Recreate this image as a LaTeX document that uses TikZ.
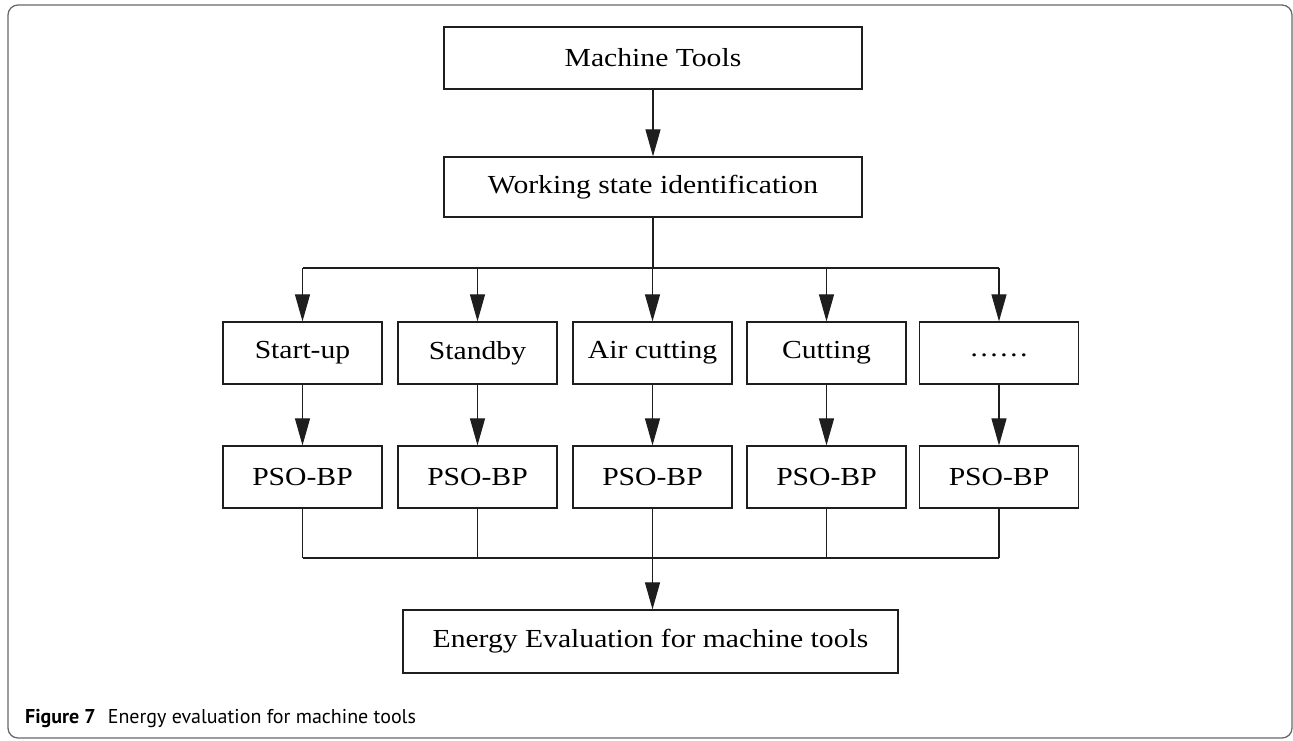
\documentclass[tikz,border=0pt]{standalone}
\usepackage{fontspec}
\setmainfont{Liberation Serif}
\newfontfamily\boxfont[FakeStretch=1.14]{Liberation Serif}
\newfontfamily\capfont{PT Sans}
\usetikzlibrary{arrows.meta}
\definecolor{framegray}{RGB}{105,105,105}
\definecolor{boxline}{RGB}{30,30,30}
\tikzset{
  box/.style={draw=boxline, line width=1.2pt, minimum width=159pt, minimum height=62pt,
    inner sep=0pt, font=\boxfont\fontsize{26}{30}\selectfont},
  wire/.style={draw=boxline, line width=1.1pt},
  arr/.style={wire, -{Triangle[length=27pt,width=15pt]}},
}
\begin{document}
\begin{tikzpicture}[x=1pt,y=-1pt]
\useasboundingbox (0,0) rectangle (1293,740);
% outer frame
\draw[framegray, line width=1.3pt, rounded corners=10pt] (8,5) rectangle (1292,738);

% top of the flow
\node[box, minimum width=418pt, minimum height=62pt] (mt) at (653,58) {Machine Tools};
\node[box, minimum width=418pt, minimum height=60pt] (ws) at (653,187) {Working state identification};

% working states
\node[box] (s1) at (302.5,353) {Start-up};
\node[box] (s2) at (477.5,353) {Standby};
\node[box] (s3) at (652.5,353) {Air cutting};
\node[box] (s4) at (826.5,353) {Cutting};
\node[box] (s5) at (999,353) {\raisebox{0.45ex}[1.5ex][0pt]{……}};

% models
\node[box] (p1) at (302.5,477) {PSO-BP};
\node[box] (p2) at (477.5,477) {PSO-BP};
\node[box] (p3) at (652.5,477) {PSO-BP};
\node[box] (p4) at (826.5,477) {PSO-BP};
\node[box] (p5) at (999,477) {PSO-BP};

% result
\node[box, minimum width=495pt, minimum height=63pt] (ee) at (650.5,641.5) {Energy Evaluation for machine tools};

% connectors
\coordinate (tb) at (653,268);
\coordinate (bb) at (652.5,558);
\draw[arr] (mt.south) -- (ws.north);
\draw[wire] (ws.south) -- (tb);
\draw[wire] (s1.north |- tb) -- (s5.north |- tb);
\foreach \i in {1,...,5}{
  \draw[arr] (s\i.north |- tb) -- (s\i.north);
  \draw[arr] (s\i.south) -- (p\i.north);
  \draw[wire] (p\i.south) -- (p\i.south |- bb);
}
\draw[wire] (p1.south |- bb) -- (p5.south |- bb);
\draw[arr] (bb) -- (bb |- ee.north);

% caption
\node[anchor=base west, inner sep=0pt, font=\capfont\fontsize{20}{24}\selectfont] (cap) at (25,723)
  {\textbf{Figure 7}\hspace{0.6em}Energy evaluation for machine tools};
\end{tikzpicture}
\end{document}
